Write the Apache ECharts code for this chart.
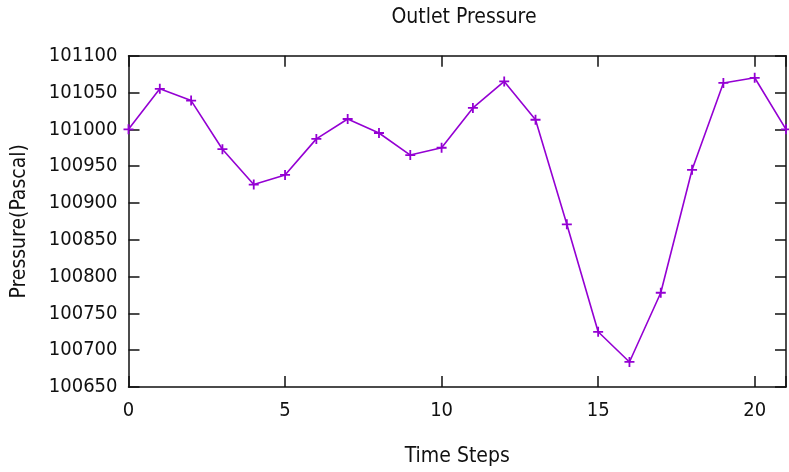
<!DOCTYPE html>
<html>
<head>
<meta charset="utf-8">
<script src="https://cdn.jsdelivr.net/npm/echarts@6/dist/echarts.min.js"></script>
<style>
  html, body { margin: 0; padding: 0; background: #fff; }
  #chart { width: 789px; height: 472px; }
</style>
</head>
<body>
<div id="chart"></div>
<script>
// Outlet pressure sampled at each time step
const timeSteps = [0, 1, 2, 3, 4, 5, 6, 7, 8, 9, 10, 11, 12, 13, 14, 15, 16, 17, 18, 19, 20, 21];
const pressure = [101000, 101055, 101039, 100973, 100925, 100938, 100987, 101014, 100995, 100965, 100975,
                  101029, 101065, 101013, 100871, 100725, 100684, 100778, 100945, 101063, 101070, 101000];
const xTicks = [0, 5, 10, 15, 20];
const yTicks = [100650, 100700, 100750, 100800, 100850, 100900, 100950, 101000, 101050, 101100];

const FONT = '"DejaVu Sans Condensed", "DejaVu Sans", sans-serif';
const INK = '#111111';
const LINE = '#9400d3';

const points = timeSteps.map((t, i) => [t, pressure[i]]);

const xRange = { type: 'value', min: 0, max: 21, interval: xTicks[1] - xTicks[0] };
const yRange = { type: 'value', min: yTicks[0], max: yTicks[yTicks.length - 1], interval: yTicks[1] - yTicks[0] };

const frameLine = { show: true, onZero: false, lineStyle: { color: INK, width: 1.5 } };
const innerTick = { show: true, inside: true, length: 11, lineStyle: { color: INK, width: 1.5 } };

const chart = echarts.init(document.getElementById('chart'), null, { renderer: 'canvas' });
chart.setOption({
  animation: false,
  backgroundColor: '#ffffff',
  title: {
    text: 'Outlet Pressure',
    left: 459, top: 2, textAlign: 'center',
    textStyle: { fontFamily: FONT, fontSize: 21, fontWeight: 'normal', color: INK }
  },
  grid: { left: 128.5, right: 0, top: 55.7, bottom: 83.3, containLabel: false },
  xAxis: [
    Object.assign({}, xRange, {
      position: 'bottom',
      name: 'Time Steps', nameLocation: 'middle', nameGap: 59,
      nameTextStyle: { fontFamily: FONT, fontSize: 21, color: INK },
      axisLine: frameLine, axisTick: innerTick, splitLine: { show: false },
      axisLabel: {
        margin: 14, fontFamily: FONT, fontSize: 20, color: INK,
        formatter: v => (xTicks.includes(v) ? String(v) : '')
      }
    }),
    Object.assign({}, xRange, {
      position: 'top',
      axisLine: frameLine, axisTick: innerTick, splitLine: { show: false },
      axisLabel: { show: false }
    })
  ],
  yAxis: [
    Object.assign({}, yRange, {
      position: 'left',
      name: 'Pressure(Pascal)', nameLocation: 'middle', nameGap: 98, nameRotate: 90,
      nameTextStyle: { fontFamily: FONT, fontSize: 21, color: INK },
      axisLine: frameLine, axisTick: innerTick, splitLine: { show: false },
      axisLabel: { margin: 11, fontFamily: FONT, fontSize: 20, color: INK, formatter: v => String(v) }
    }),
    Object.assign({}, yRange, {
      position: 'right',
      axisLine: frameLine, axisTick: innerTick, splitLine: { show: false },
      axisLabel: { show: false }
    })
  ],
  series: [{
    type: 'line',
    data: points,
    clip: false,
    lineStyle: { color: LINE, width: 1.6 },
    symbol: 'path://M0,4.1H10V5.9H0Z M4.1,0H5.9V10H4.1Z',
    symbolSize: 10,
    itemStyle: { color: LINE },
    showAllSymbol: true
  }]
});
</script>
</body>
</html>
